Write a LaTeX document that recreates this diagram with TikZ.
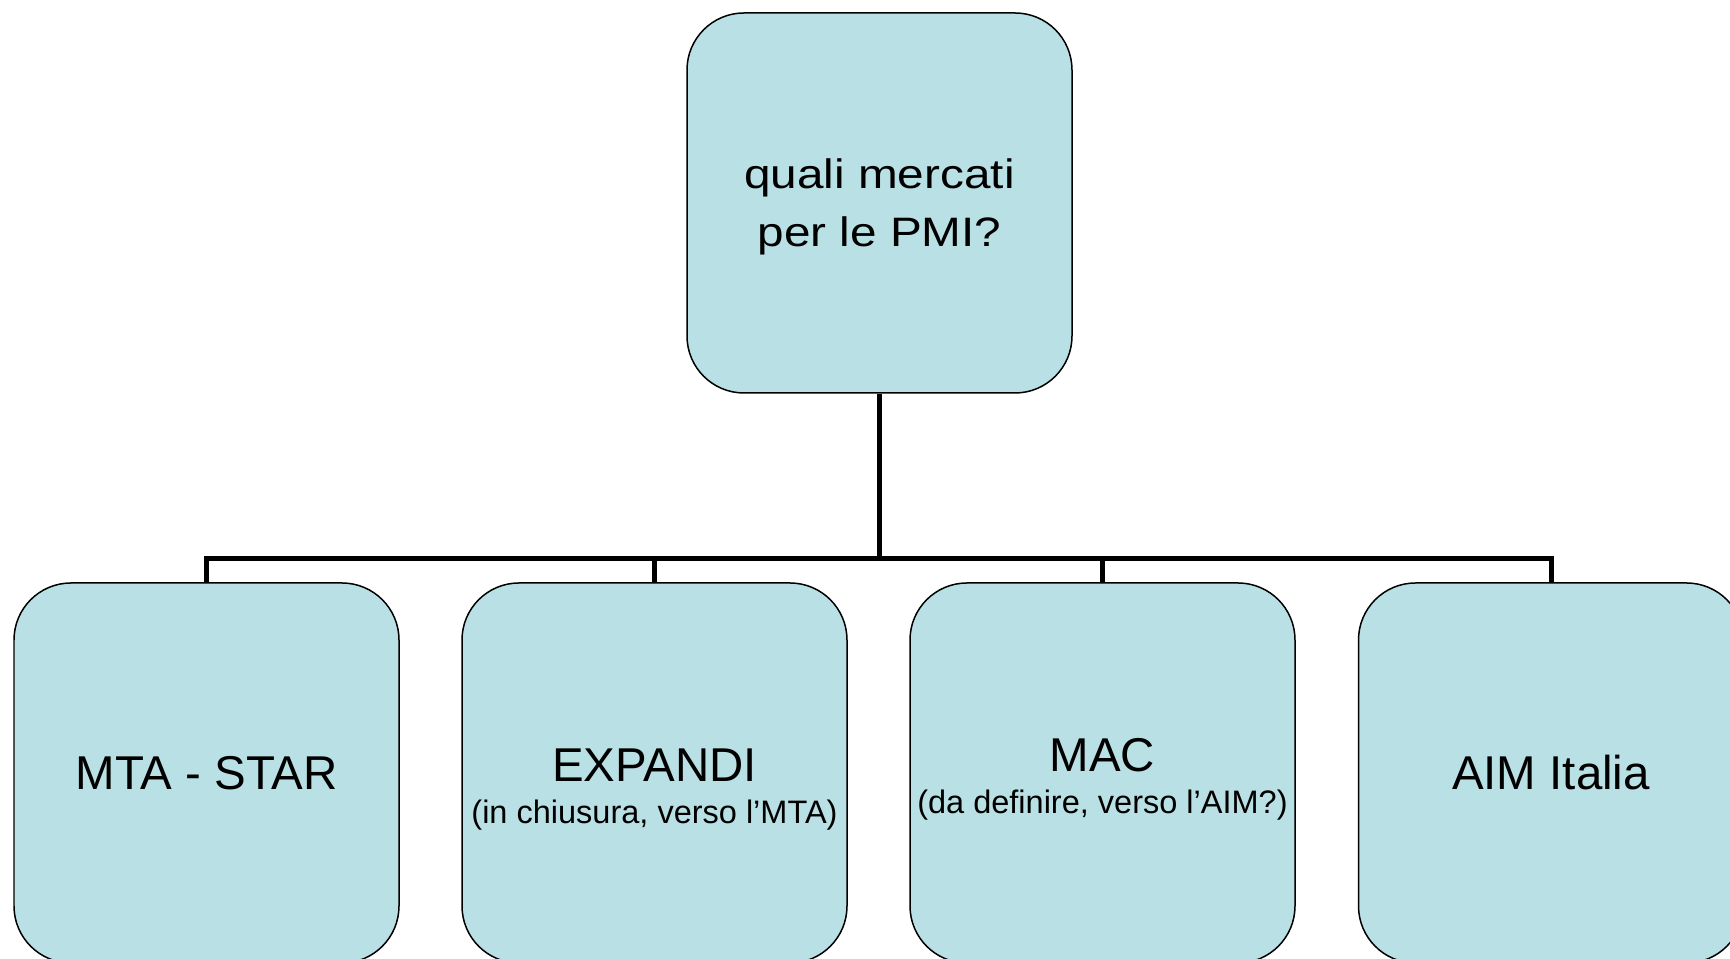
\documentclass[tikz,border=0pt]{standalone}
\usepackage{fontspec}
\setmainfont{Liberation Sans}
\newfontfamily\widefont[FakeStretch=1.16]{Liberation Sans}
\usepackage{xcolor}
\usepackage{tikz}
\usetikzlibrary{shapes,arrows}
\definecolor{boxblue}{RGB}{185,224,228}

\begin{document}
\begin{tikzpicture}[scale = 1,
  market/.style = {draw=black, line width=0.85pt, fill=boxblue, rounded corners=1.14cm,
    minimum width=7.7cm, minimum height=7.6cm, inner sep=0pt, align=center, text=black},
  link/.style = {line width=2.85pt, black}]
\clip (0,0) rectangle (34.6,19.18);
\node[market, font=\widefont\fontsize{23.4pt}{33pt}\selectfont] (pmi) at (17.59,15.12) {\rule{0pt}{0.77cm}quali mercati\\per le PMI?};
\node[market, font=\fontsize{27pt}{30pt}\selectfont] (mta) at (4.13,3.72) {MTA - STAR};
\node[market, font=\fontsize{18.5pt}{23.9pt}\selectfont] (expandi) at (13.09,3.72) {\rule{0pt}{1.3cm}{\fontsize{27pt}{23.9pt}\selectfont EXPANDI}\\(in chiusura, verso l’MTA)};
\node[market, font=\fontsize{18.5pt}{23.9pt}\selectfont] (mac) at (22.05,3.72) {\rule{0pt}{0.93cm}{\fontsize{27pt}{23.9pt}\selectfont MAC}\\(da definire, verso l’AIM?)};
\node[market, font=\fontsize{27pt}{30pt}\selectfont] (aim) at (31.02,3.72) {AIM Italia};
\coordinate (bar) at (17.59,8.0);
\draw[link] (pmi.south) -- (bar);
\draw[link] (mta.north) |- (bar);
\draw[link] (expandi.north) |- (bar);
\draw[link] (mac.north) |- (bar);
\draw[link] (aim.north) |- (bar);
\end{tikzpicture}
\end{document}
